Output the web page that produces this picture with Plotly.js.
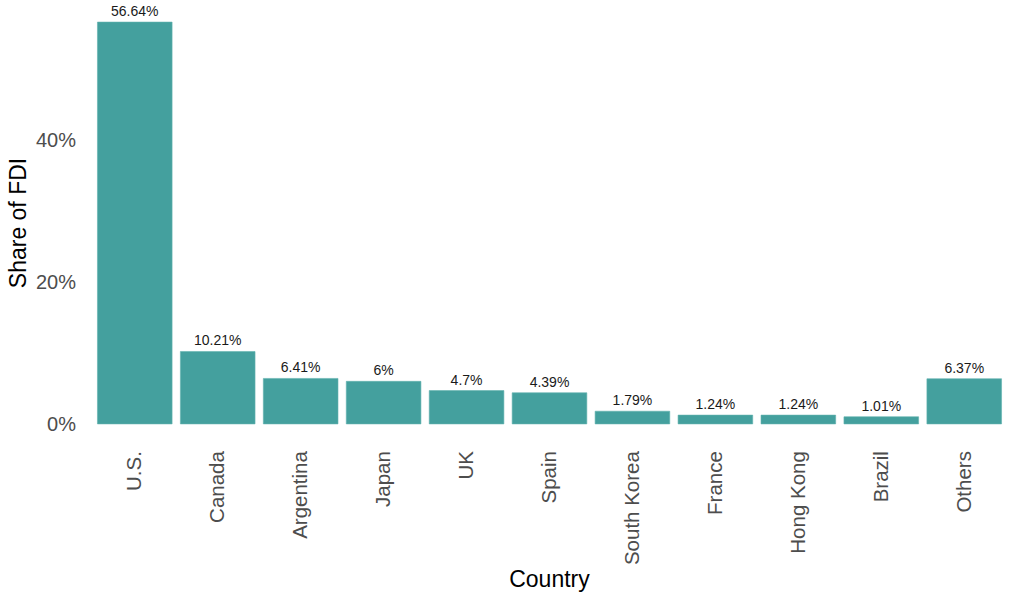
<!DOCTYPE html>
<html>
<head>
<meta charset="utf-8">
<script src="https://cdn.plot.ly/plotly-3.0.1.min.js"></script>
<style>
  html, body { margin: 0; padding: 0; background: #fff; }
  #chart { width: 1024px; height: 600px; }
</style>
</head>
<body>
<div id="chart"></div>
<script>
const countries = ['U.S.', 'Canada', 'Argentina', 'Japan', 'UK', 'Spain',
  'South Korea', 'France', 'Hong Kong', 'Brazil', 'Others']
const shares = [56.64, 10.21, 6.41, 6, 4.7, 4.39, 1.79, 1.24, 1.24, 1.01, 6.37]
const yTicks = [0, 20, 40]

const font = 'Liberation Sans, Arial, sans-serif'
const yMax = Math.max(...shares)
const pad = yMax * 0.05

const trace = {
  x: countries,
  y: shares,
  type: 'bar',
  text: shares.map(v => v + '%'),
  textposition: 'outside',
  cliponaxis: false,
  textfont: { family: font, size: 14, color: '#1a1a1a' },
  marker: { color: '#44a09e', line: { color: '#62b1af', width: 0.6 } },
  hoverinfo: 'x+y',
}

const layout = {
  width: 1024,
  height: 600,
  paper_bgcolor: '#ffffff',
  plot_bgcolor: '#ffffff',
  margin: { l: 85, r: 10, t: 2, b: 156 },
  bargap: 0.1,
  showlegend: false,
  font: { family: font },
  xaxis: {
    type: 'category',
    range: [-0.6, countries.length - 0.4],
    tickangle: -90,
    ticks: '',
    showgrid: false,
    zeroline: false,
    showline: false,
    tickfont: { family: font, size: 20.5, color: '#4d4d4d' },
    ticklabelstandoff: 2,
    title: { text: 'Country', font: { family: font, size: 23, color: '#000' }, standoff: 6 },
    automargin: false,
  },
  yaxis: {
    range: [-pad, yMax + pad],
    tickvals: yTicks,
    ticktext: yTicks.map(v => v + '%'),
    ticks: '',
    showgrid: false,
    zeroline: false,
    showline: false,
    tickfont: { family: font, size: 20, color: '#4d4d4d' },
    ticklabelstandoff: 8,
    title: { text: 'Share of FDI', font: { family: font, size: 23, color: '#000' }, standoff: 2 },
    automargin: false,
  },
}

Plotly.newPlot('chart', [trace], layout, { displayModeBar: false, staticPlot: true })
</script>
</body>
</html>
